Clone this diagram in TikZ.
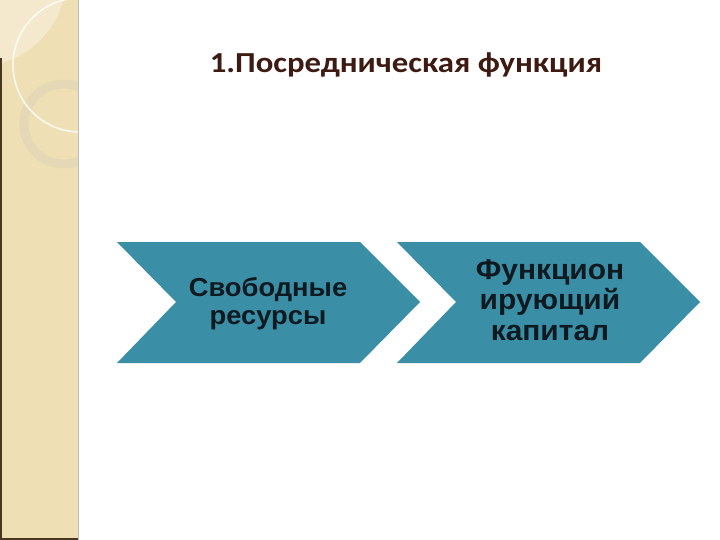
\documentclass[tikz,border=0pt]{standalone}
\usepackage{fontspec}
\setmainfont{Liberation Sans}
\newfontfamily\titlefont[FakeStretch=1.13]{Carlito}
\newfontfamily\chevfont[FakeStretch=1.05]{Liberation Sans}

\definecolor{sidebg}{HTML}{EFDFB4}
\definecolor{sidelight}{HTML}{F4E9CC}
\definecolor{sidering}{HTML}{E4D8B6}
\definecolor{sideedge}{HTML}{4A3520}
\definecolor{chevteal}{HTML}{3A8EA6}
\definecolor{chevtext}{HTML}{0E1A20}
\definecolor{titlebrown}{HTML}{3E1B12}

\tikzset{
    chevron/.style={fill=chevteal, draw=none},
    chevlabel/.style={align=center, text=chevtext},
    titlelabel/.style={text=titlebrown, font=\titlefont\bfseries\fontsize{29}{32}\selectfont}
}

\begin{document}
\begin{tikzpicture}[x=1pt, y=-1pt]
    % 1. Рамка рисунка
    \useasboundingbox (0, 0) rectangle (720, 540);
    \fill[white] (0, 0) rectangle (720, 540);

    % 2. Боковая полоса с кругами
    \begin{scope}
        \clip (0, 0) rectangle (78, 540);
        \fill[sidebg] (0, 0) rectangle (78, 540);
        \fill[sidelight] (-22, -22) circle (88);
        \draw[sidering, line width=9pt] (64, 124) circle (40);
        \draw[white, opacity=0.8, line width=1.6pt] (80, 65) circle (67);
    \end{scope}
    \fill[sideedge] (0, 58) rectangle (1.6, 540);
    \fill[sideedge] (0, 537.5) rectangle (78, 540);
    \draw[black!25, line width=1pt] (78, 0) -- (78, 540);

    % 3. Заголовок
    \node[titlelabel, anchor=base] (title) at (406, 73) {1.Посредническая функция};

    % 4. Две стрелки-шевроны
    \foreach \dx in {0, 280} {
        \fill[chevron] (117+\dx, 242) -- (360+\dx, 242) -- (420+\dx, 302)
            -- (360+\dx, 363) -- (117+\dx, 363) -- (176+\dx, 302) -- cycle;
    }

    % 5. Подписи
    \node[chevlabel, font=\chevfont\bfseries\fontsize{26}{28}\selectfont]
        (resources) at (268, 304) {Свободные\\ресурсы};
    \node[chevlabel, font=\chevfont\bfseries\fontsize{28.5}{30.5}\selectfont]
        (capital) at (550, 300) {Функцион\\ирующий\\капитал};
\end{tikzpicture}
\end{document}
